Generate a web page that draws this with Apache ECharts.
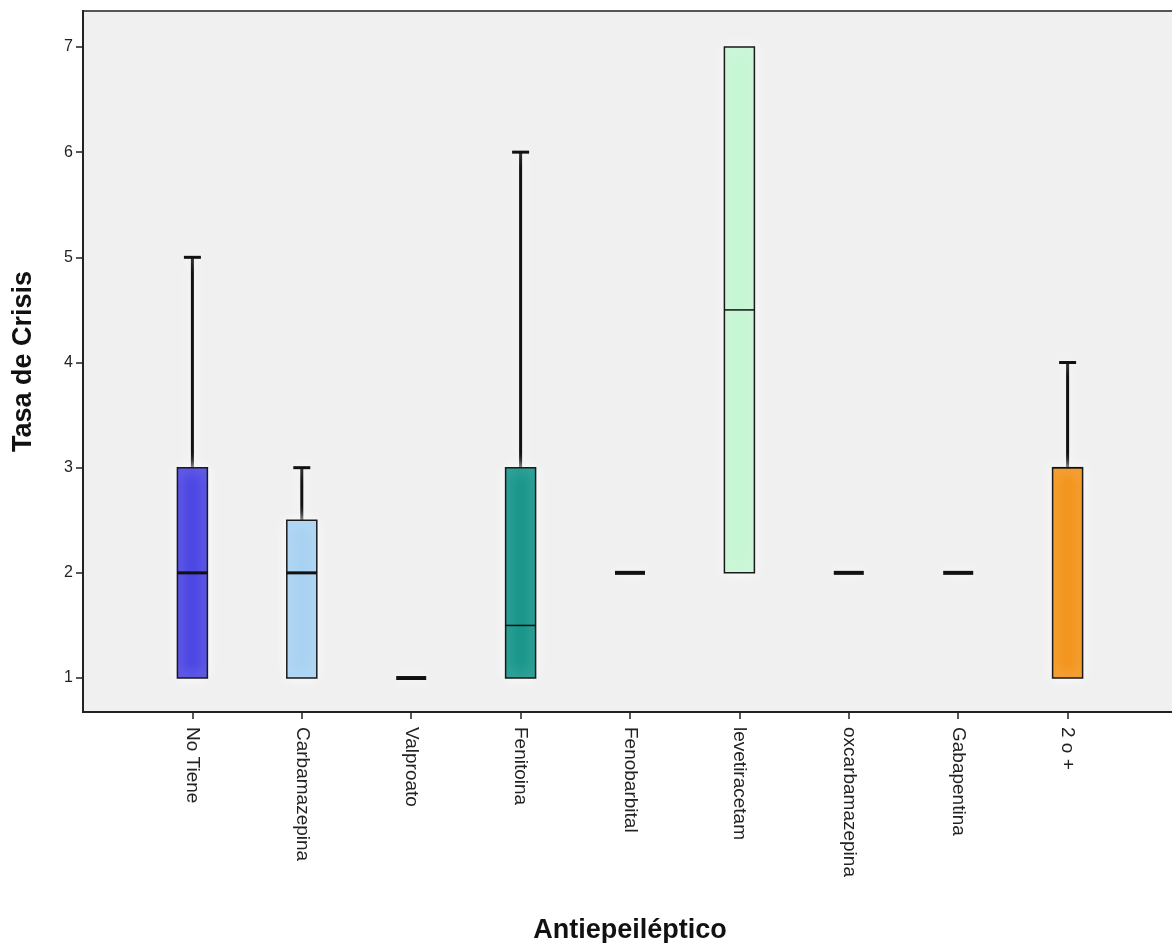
<!DOCTYPE html>
<html>
<head>
<meta charset="utf-8">
<script src="https://cdn.jsdelivr.net/npm/echarts@6/dist/echarts.min.js"></script>
<style>
  html, body { margin: 0; padding: 0; background: #ffffff; }
  #chart { width: 1172px; height: 943px; }
</style>
</head>
<body>
<div id="chart"></div>
<script>
// Treatment groups and their box-plot summaries (Tasa de Crisis)
const categories = ['No Tiene', 'Carbamazepina', 'Valproato', 'Fenitoina', 'Fenobarbital',
                    'levetiracetam', 'oxcarbamazepina', 'Gabapentina', '2 o +'];
const whiskerLow  = [1, 1,   1, 1,   2, 2,   2, 2, 1];
const quartile1   = [1, 1,   1, 1,   2, 2,   2, 2, 1];
const medians     = [2, 2,   1, 1.5, 2, 4.5, 2, 2, 3];
const quartile3   = [3, 2.5, 1, 3,   2, 7,   2, 2, 3];
const whiskerHigh = [5, 3,   1, 6,   2, 7,   2, 2, 4];
const yTicks = [1, 2, 3, 4, 5, 6, 7];

// Box fill colours per group
const boxColors = ['#4b45e3', '#a8d2f2', '#9aa0d8', '#17958a', '#c0c0c0',
                   '#c6f6d4', '#c0c0c0', '#c0c0c0', '#f3941b'];
const medianWidths = [3, 3, 4, 1.5, 4, 1.5, 4, 4, 1.5];

// The category axis has an empty slot at each end so groups sit on whole steps
const axisCats = [''].concat(categories, ['']);
const rows = categories.map((c, i) => [i + 1, whiskerLow[i], quartile1[i], medians[i], quartile3[i], whiskerHigh[i]]);

const halo = { shadowBlur: 14, shadowColor: 'rgba(255,255,255,0.95)' };

function renderBox(params, api) {
  const i = params.dataIndex;
  const x = api.value(0);
  const pLow = api.coord([x, api.value(1)]);
  const pQ1 = api.coord([x, api.value(2)]);
  const pMed = api.coord([x, api.value(3)]);
  const pQ3 = api.coord([x, api.value(4)]);
  const pHigh = api.coord([x, api.value(5)]);
  const cx = pMed[0];
  const half = 15;
  const cap = 8.5;
  const children = [];

  if (api.value(5) > api.value(4)) {
    children.push({
      type: 'line',
      shape: { x1: cx, y1: pQ3[1], x2: cx, y2: pHigh[1] },
      style: Object.assign({ stroke: '#111', lineWidth: 3 }, halo)
    });
    children.push({
      type: 'line',
      shape: { x1: cx - cap, y1: pHigh[1], x2: cx + cap, y2: pHigh[1] },
      style: Object.assign({ stroke: '#111', lineWidth: 3 }, halo)
    });
  }
  if (api.value(1) < api.value(2)) {
    children.push({
      type: 'line',
      shape: { x1: cx, y1: pQ1[1], x2: cx, y2: pLow[1] },
      style: Object.assign({ stroke: '#111', lineWidth: 3 }, halo)
    });
    children.push({
      type: 'line',
      shape: { x1: cx - cap, y1: pLow[1], x2: cx + cap, y2: pLow[1] },
      style: Object.assign({ stroke: '#111', lineWidth: 3 }, halo)
    });
  }
  if (api.value(4) > api.value(2)) {
    children.push({
      type: 'rect',
      shape: { x: cx - half, y: pQ3[1], width: 2 * half, height: pQ1[1] - pQ3[1] },
      style: Object.assign({ fill: boxColors[i], stroke: '#1a1a1a', lineWidth: 1.5 }, halo)
    });
  }
  children.push({
    type: 'line',
    shape: { x1: cx - half, y1: pMed[1], x2: cx + half, y2: pMed[1] },
    style: Object.assign({ stroke: '#111', lineWidth: medianWidths[i] },
      api.value(4) > api.value(2) ? {} : halo)
  });
  return { type: 'group', children: children };
}

const chart = echarts.init(document.getElementById('chart'), null, { renderer: 'canvas' });
chart.setOption({
  backgroundColor: '#ffffff',
  animation: false,
  grid: {
    left: 83, top: 11, bottom: 231, right: -5,
    outerBoundsMode: 'none',
    containLabel: false,
    show: true, backgroundColor: '#f0f0f0',
    borderColor: '#555555', borderWidth: 2
  },
  xAxis: {
    type: 'category',
    data: axisCats,
    boundaryGap: false,
    name: 'Antiepeiléptico',
    nameLocation: 'middle',
    nameGap: 205,
    nameTextStyle: { fontFamily: 'Liberation Sans', fontWeight: 'bold', fontSize: 27, color: '#111' },
    axisLine: { show: true, lineStyle: { color: '#222', width: 2 } },
    axisTick: {
      show: true, length: 7, lineStyle: { color: '#222', width: 1.5 },
      interval: (idx) => idx > 0 && idx <= categories.length
    },
    axisLabel: {
      rotate: -90, margin: 15, interval: 0,
      fontFamily: 'Liberation Sans', fontSize: 19, color: '#222'
    },
    splitLine: { show: false }
  },
  yAxis: {
    type: 'value',
    min: 0.677,
    max: 7.342,
    name: 'Tasa de Crisis',
    nameLocation: 'middle',
    nameGap: 46,
    nameRotate: 90,
    nameTextStyle: { fontFamily: 'Liberation Sans', fontWeight: 'bold', fontSize: 27, color: '#111' },
    axisLine: { show: true, lineStyle: { color: '#222', width: 2 } },
    axisTick: { show: true, length: 7, customValues: yTicks, lineStyle: { color: '#222', width: 1.5 } },
    axisLabel: {
      customValues: yTicks, margin: 10,
      fontFamily: 'Liberation Sans', fontSize: 16, color: '#222'
    },
    splitLine: { show: false }
  },
  series: [{
    type: 'custom',
    renderItem: renderBox,
    data: rows,
    encode: { x: 0, y: [1, 2, 3, 4, 5] },
    clip: true
  }]
});
</script>
</body>
</html>
